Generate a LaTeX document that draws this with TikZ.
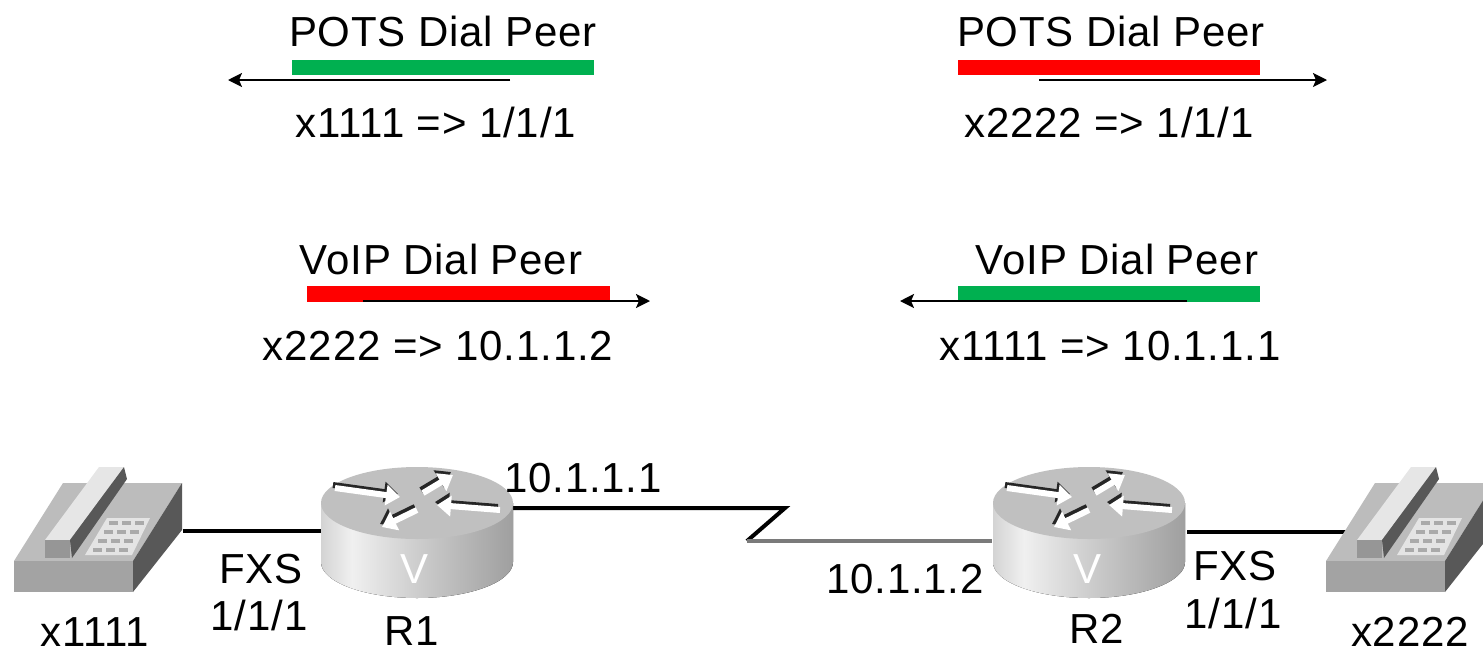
\documentclass[tikz,border=0pt]{standalone}
\usepackage{fontspec}
\setmainfont{Liberation Sans}[LetterSpace=2]
\usetikzlibrary{arrows.meta}
\definecolor{pgreen}{RGB}{0,176,80}
\definecolor{pred}{RGB}{255,0,0}
\definecolor{serialgray}{RGB}{122,122,122}
\definecolor{rsA}{RGB}{120,120,120}
\definecolor{rsB}{RGB}{165,165,165}
\definecolor{rsC}{RGB}{240,240,240}
\definecolor{rsD}{RGB}{205,205,205}
\definecolor{rsE}{RGB}{150,150,150}
\definecolor{rsF}{RGB}{110,110,110}
\definecolor{rtopc}{RGB}{192,192,192}
\definecolor{phtop}{RGB}{188,188,188}
\definecolor{phfront}{RGB}{163,163,163}
\definecolor{phside}{RGB}{88,88,88}
\definecolor{phkey}{RGB}{228,228,228}
\definecolor{phkeyd}{RGB}{170,170,170}
\definecolor{phhand}{RGB}{230,230,230}
\definecolor{phend}{RGB}{150,150,150}
\pgfdeclarehorizontalshading{routerside}{100bp}{color(0bp)=(rsA); color(12bp)=(rsB); color(33bp)=(rsC); color(50bp)=(rsD); color(80bp)=(rsE); color(100bp)=(rsF)}
\tikzset{
  lbl/.style={font=\fontsize{21}{25}\selectfont, inner sep=0pt, anchor=base},
  dparrow/.style={line width=1pt, -{Stealth[length=7pt,width=7pt,inset=1.5pt]}},
  wire/.style={line width=2pt, black},
  serial/.style={line width=2pt, serialgray},
  rarrow/.style={line width=3pt, -{Triangle[length=7pt,width=10pt]}},
  router/.pic={
    \fill[shading=routerside] (-96,0) -- (-96,59) arc[start angle=180,end angle=0,x radius=96,y radius=36] -- (96,0) -- cycle;
    \fill[rtopc] (0,0) ellipse[x radius=96,y radius=36];
    \begin{scope}[shift={(-2,-3)}]
      \draw[rarrow,black!85] (-82,-15) -- (-17,-6);
      \draw[rarrow,black!85] (6,-10) -- (36,-28);
      \draw[rarrow,black!85] (0,7) -- (-35,24);
      \draw[rarrow,black!85] (83,7) -- (20,2);
    \end{scope}
    \draw[rarrow,white] (-82,-15) -- (-17,-6);
    \draw[rarrow,white] (6,-10) -- (36,-28);
    \draw[rarrow,white] (0,7) -- (-35,24);
    \draw[rarrow,white] (83,7) -- (20,2);
    \node[text=white, inner sep=0pt, font=\fontsize{21}{21}\selectfont] at (-2,66) {V};
  },
  phone/.pic={
    \fill[phtop] (14,561) -- (63,483) -- (182,483) -- (133,561) -- cycle;
    \fill[phside] (133,561) -- (182,483) -- (182,530) -- (133,592) -- cycle;
    \fill[phfront] (14,561) rectangle (133,592);
    \fill[phkey] (85,555) -- (107,518) -- (150,518) -- (132,555) -- cycle;
    \foreach \r in {0,1,2,3}
      \foreach \c in {0,1,2}
        \fill[phkeyd] ({109-\r*5.4+\c*13},{521+\r*9}) rectangle +(9,4);
    \fill[phhand] (45,540) -- (99,467) -- (124,467) -- (70,540) -- cycle;
    \fill[phside] (70,540) -- (124,467) -- (127,479) -- (72,558) -- cycle;
    \fill[phend] (45,540) rectangle (70,558);
  }
}
\begin{document}
\begin{tikzpicture}[x=0.5pt,y=-0.5pt]
\useasboundingbox (0,0) rectangle (1483,654);
\clip (0,0) rectangle (1483,654);

% ---- dial peers, top row
\node[lbl] (pots1) at (443,46) {POTS Dial Peer};
\fill[pgreen] (292,60) rectangle (594,75);
\coordinate (a1s) at (510,80); \coordinate (a1e) at (228,80);
\draw[dparrow] (a1s) -- (a1e);
\node[lbl] (pots1m) at (436,137) {x1111 => 1/1/1};

\node[lbl] (pots2) at (1111,46) {POTS Dial Peer};
\fill[pred] (958,60) rectangle (1260,75);
\coordinate (a2s) at (1039,80); \coordinate (a2e) at (1327,80);
\draw[dparrow] (a2s) -- (a2e);
\node[lbl] (pots2m) at (1109,137) {x2222 => 1/1/1};

% ---- dial peers, middle row
\node[lbl] (voip1) at (441,274) {VoIP Dial Peer};
\fill[pred] (307,286) rectangle (610,302);
\coordinate (a3s) at (363,301); \coordinate (a3e) at (650,301);
\draw[dparrow] (a3s) -- (a3e);
\node[lbl] (voip1m) at (438,360) {x2222 => 10.1.1.2};

\node[lbl] (voip2) at (1117,274) {VoIP Dial Peer};
\fill[pgreen] (958,286) rectangle (1260,302);
\coordinate (a4s) at (1187,301); \coordinate (a4e) at (900,301);
\draw[dparrow] (a4s) -- (a4e);
\node[lbl] (voip2m) at (1110,360) {x1111 => 10.1.1.1};

% ---- network
\coordinate (ph1) at (183,531);
\coordinate (r1w) at (321,531);
\coordinate (r1e) at (513,508);
\coordinate (z1) at (785,508);
\coordinate (z2) at (747,541);
\coordinate (r2w) at (992,541);
\coordinate (r2e) at (1187,532);
\coordinate (ph2) at (1346,532);

\draw[wire] (ph1) -- (r1w);
\draw[wire, line join=miter] (r1e) -- (z1) -- (z2);
\draw[serial] (z2) -- (r2w);
\draw[wire] (r2e) -- (ph2);

\pic (R1) at (417,503) {router};
\pic (R2) at (1089,503) {router};
\pic (P1) at (0,0) {phone};
\pic (P2) at (1312,0) {phone};

\node[lbl] (ip1) at (583,492) {10.1.1.1};
\node[lbl] (ip2) at (905,593) {10.1.1.2};
\node[lbl] (fxs1) at (261,583) {FXS};
\node[lbl] (port1) at (259,630) {1/1/1};
\node[lbl] (r1l) at (412,645) {R1};
\node[lbl] (ext1) at (95,646) {x1111};
\node[lbl] (fxs2) at (1235,580) {FXS};
\node[lbl] (port2) at (1233,628) {1/1/1};
\node[lbl] (r2l) at (1097,643) {R2};
\node[lbl] (ext2) at (1410,646) {x2222};
\end{tikzpicture}
\end{document}
